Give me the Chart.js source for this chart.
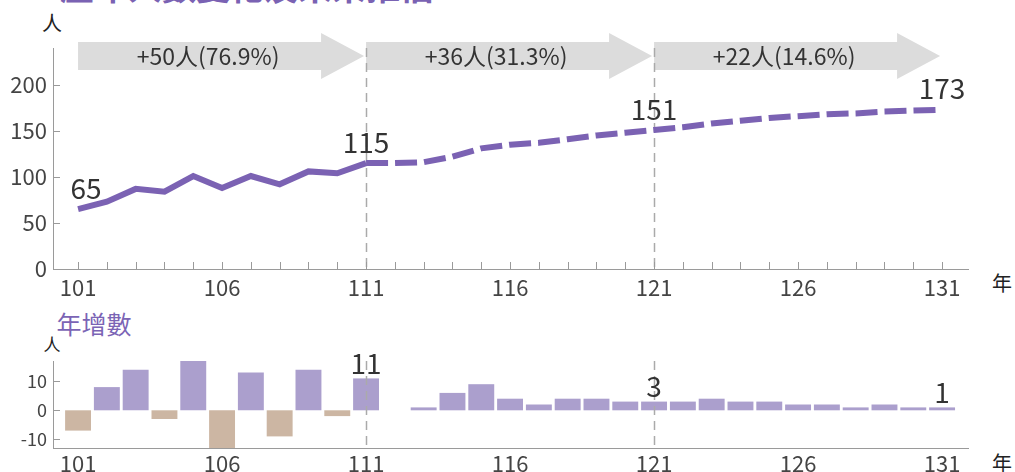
<!DOCTYPE html>
<html>
<head>
<meta charset="utf-8">
<script src="https://cdn.jsdelivr.net/npm/chart.js@4.4.0/dist/chart.umd.min.js"></script>
<style>
  html, body { margin: 0; padding: 0; background: #fff; }
  body { width: 1015px; height: 472px; position: relative; overflow: hidden;
         font-family: "Noto Sans CJK TC", "Noto Sans", sans-serif; }
  canvas { position: absolute; left: 0; }
  #topChart { top: 0; }
  #bottomChart { top: 300px; }
  .lbl { position: absolute; white-space: nowrap; line-height: 1; transform: translate(-50%, -50%); color: #222; }
  #title { position: absolute; left: 60px; top: -31px; white-space: nowrap; line-height: 1;
           font-size: 34px; font-weight: 700; color: #7a62b3; }
</style>
</head>
<body>
<div id="title">歷年人數變化及未來推估</div>
<div class="lbl" style="left:52px;top:23px;font-size:20px;">人</div>
<div class="lbl" style="left:1002px;top:283px;font-size:20px;">年</div>
<div class="lbl" style="left:94px;top:323px;font-size:25px;color:#7b64b5;">年增數</div>
<div class="lbl" style="left:52px;top:343px;font-size:17px;">人</div>
<div class="lbl" style="left:1002px;top:463px;font-size:20px;">年</div>
<canvas id="topChart" width="1015" height="300" style="width:1015px;height:300px"></canvas>
<canvas id="bottomChart" width="1015" height="172" style="width:1015px;height:172px"></canvas>
<script>
// ---- data ----
const years = [101,102,103,104,105,106,107,108,109,110,111,112,113,114,115,116,117,118,119,120,121,122,123,124,125,126,127,128,129,130,131];
const totals = [65,73,87,84,101,88,101,92,106,104,115,115,116,122,131,135,137,141,145,148,151,154,158,161,164,166,168,169,171,172,173];
const changes = [-7,8,14,-3,17,-13,13,-9,14,-2,11,0,1,6,9,4,2,4,4,3,3,3,4,3,3,2,2,1,2,1,1];
const lastActualYear = 111;
const xTickYears = [101,106,111,116,121,126,131];
const yTicksTop = [0,50,100,150,200];
const yTicksBottom = [-10,0,10];
const markerYears = [111,121];
const lineLabelYears = [101,111,121,131];
const barLabelYears = [111,121,131];
const arrowSpans = [[101,111],[111,121],[121,131]];
const arrowTexts = ['+50人(76.9%)','+36人(31.3%)','+22人(14.6%)'];

// ---- styles ----
const FONT = '"Noto Sans CJK TC", "Noto Sans", sans-serif';
const LINE_COLOR = '#7b62b3';
const POS_COLOR = '#ab9fcd';
const NEG_COLOR = '#ccb6a3';
const AXIS_COLOR = '#9a9a9a';
const TEXT_COLOR = '#333';

Chart.defaults.font.family = FONT;
Chart.defaults.animation = false;

function xScale(height, pad) {
  return {
    type: 'linear', min: 100.13, max: 131.9, offset: false,
    afterBuildTicks: s => { s.ticks = xTickYears.map(v => ({ value: v })); },
    afterFit: s => { s.height = height; },
    grid: { display: false, drawTicks: false },
    border: { color: AXIS_COLOR, width: 1 },
    ticks: { font: { size: 22 }, color: '#444', padding: pad, maxRotation: 0, autoSkip: false,
             callback: v => String(v) }
  };
}
function yScale(min, max, list, size) {
  return {
    min, max,
    afterBuildTicks: s => { s.ticks = list.map(v => ({ value: v })); },
    afterFit: s => { s.width = 53; },
    grid: { display: false, drawTicks: false },
    border: { color: AXIS_COLOR, width: 1 },
    ticks: { font: { size }, color: '#444', padding: 6, callback: v => String(v) }
  };
}

function drawMarkers(chart) {
  const { ctx, scales: { x }, chartArea: a } = chart;
  ctx.save();
  ctx.strokeStyle = '#aaa';
  ctx.lineWidth = 1.5;
  ctx.setLineDash([9, 6]);
  markerYears.forEach(yr => {
    const px = Math.round(x.getPixelForValue(yr)) + 0.5;
    ctx.beginPath(); ctx.moveTo(px, a.top); ctx.lineTo(px, a.bottom); ctx.stroke();
  });
  ctx.restore();
}
function drawYTicks(chart, list) {
  const { ctx, scales: { y }, chartArea: a } = chart;
  ctx.save();
  ctx.strokeStyle = AXIS_COLOR; ctx.lineWidth = 1;
  list.forEach(v => {
    const py = Math.round(y.getPixelForValue(v)) + 0.5;
    ctx.beginPath(); ctx.moveTo(a.left, py); ctx.lineTo(a.left + 7, py); ctx.stroke();
  });
  ctx.restore();
}

const topDecor = {
  id: 'topDecor',
  beforeDatasetsDraw(chart) {
    const { ctx, scales: { x }, chartArea: a } = chart;
    ctx.save();
    const cy = a.top + 8;
    arrowSpans.forEach((sp, i) => {
      const x0 = x.getPixelForValue(sp[0]);
      const x1 = x.getPixelForValue(sp[1]) - 2;
      const hb = x1 - 43;
      ctx.fillStyle = '#dcdcdc';
      ctx.beginPath();
      ctx.moveTo(x0, cy - 14); ctx.lineTo(hb, cy - 14); ctx.lineTo(hb, cy - 23);
      ctx.lineTo(x1, cy); ctx.lineTo(hb, cy + 23); ctx.lineTo(hb, cy + 14);
      ctx.lineTo(x0, cy + 14); ctx.closePath(); ctx.fill();
      ctx.fillStyle = TEXT_COLOR;
      ctx.font = '23px ' + FONT;
      ctx.textAlign = 'center'; ctx.textBaseline = 'middle';
      ctx.fillText(arrowTexts[i], (x0 + x1) / 2 - 13, cy);
    });
    ctx.restore();
    drawMarkers(chart);
  },
  afterDatasetsDraw(chart) {
    const { ctx, scales: { x, y }, chartArea: a } = chart;
    ctx.save();
    ctx.strokeStyle = AXIS_COLOR; ctx.lineWidth = 1;
    years.forEach(yr => {
      const px = Math.round(x.getPixelForValue(yr)) + 0.5;
      ctx.beginPath(); ctx.moveTo(px, a.bottom); ctx.lineTo(px, a.bottom - 7); ctx.stroke();
    });
    ctx.restore();
    drawYTicks(chart, yTicksTop);
    ctx.save();
    ctx.fillStyle = TEXT_COLOR;
    ctx.font = '28px ' + FONT;
    ctx.textAlign = 'center'; ctx.textBaseline = 'middle';
    lineLabelYears.forEach((yr, k) => {
      const i = years.indexOf(yr);
      const px = x.getPixelForValue(yr) + (k === 0 ? 8 : 0);
      const py = y.getPixelForValue(totals[i]) - 21;
      ctx.fillText(String(totals[i]), px, py);
    });
    ctx.restore();
  }
};

const bottomDecor = {
  id: 'bottomDecor',
  afterDatasetsDraw(chart) {
    const { ctx, scales: { x, y } } = chart;
    drawMarkers(chart);
    drawYTicks(chart, yTicksBottom);
    ctx.save();
    ctx.fillStyle = TEXT_COLOR;
    ctx.font = '28px ' + FONT;
    ctx.textAlign = 'center'; ctx.textBaseline = 'middle';
    barLabelYears.forEach(yr => {
      const i = years.indexOf(yr);
      ctx.fillText(String(changes[i]), x.getPixelForValue(yr), y.getPixelForValue(changes[i]) - 15);
    });
    ctx.restore();
  }
};

const actualIndex = years.indexOf(lastActualYear);

new Chart(document.getElementById('topChart'), {
  type: 'line',
  data: {
    datasets: [{
      data: years.map((yr, i) => ({ x: yr, y: totals[i] })),
      borderColor: LINE_COLOR,
      borderWidth: 6,
      pointRadius: 0,
      tension: 0,
      fill: false,
      segment: { borderDash: c => c.p0DataIndex >= actualIndex ? [22, 7] : undefined }
    }]
  },
  options: {
    responsive: false,
    layout: { padding: { top: 48, right: 47, left: 0, bottom: 0 } },
    plugins: { legend: { display: false }, tooltip: { enabled: false } },
    scales: { x: xScale(31, 5), y: yScale(0, 240, yTicksTop, 22) }
  },
  plugins: [topDecor]
});

new Chart(document.getElementById('bottomChart'), {
  type: 'bar',
  data: {
    datasets: [{
      data: years.map((yr, i) => ({ x: yr, y: changes[i] })),
      backgroundColor: changes.map(v => v < 0 ? NEG_COLOR : POS_COLOR),
      borderWidth: 0,
      categoryPercentage: 1,
      barPercentage: 0.9
    }]
  },
  options: {
    responsive: false,
    layout: { padding: { top: 61, right: 47, left: 0, bottom: 0 } },
    plugins: { legend: { display: false }, tooltip: { enabled: false } },
    scales: { x: xScale(24, 2), y: yScale(-13, 17, yTicksBottom, 18) }
  },
  plugins: [bottomDecor]
});
</script>
</body>
</html>
